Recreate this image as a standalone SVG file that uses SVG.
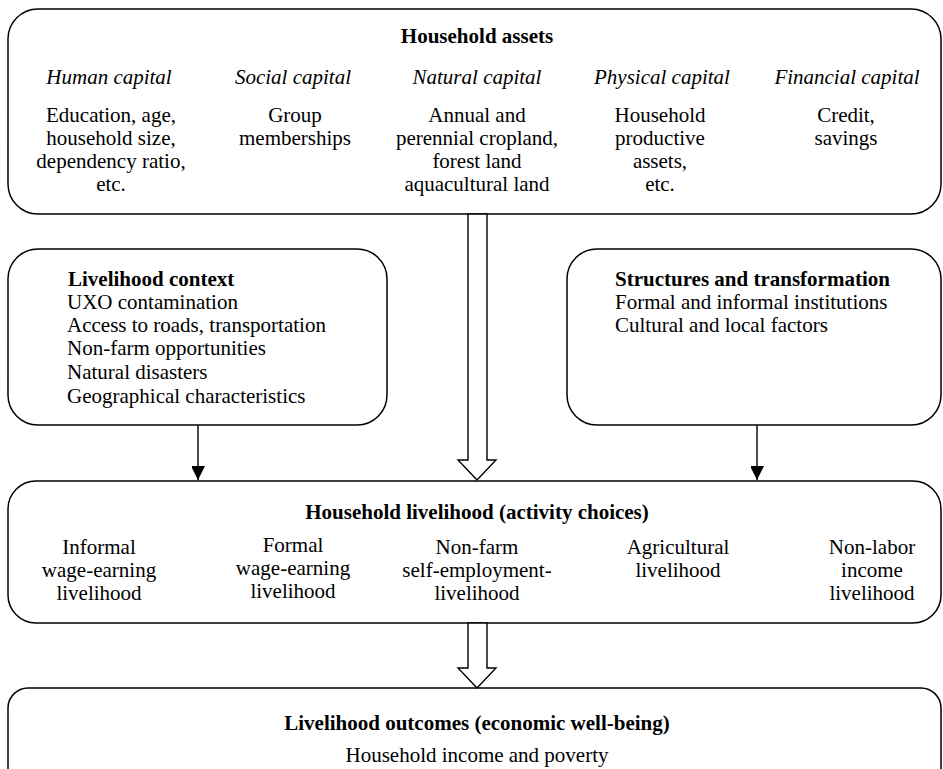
<svg xmlns="http://www.w3.org/2000/svg" width="943" height="769" viewBox="0 0 943 769">
<defs>
<style>
.box{fill:#fff;stroke:#000;stroke-width:1.5}
.t{font-family:"Liberation Serif","Times New Roman",serif;font-size:21px;fill:#000}
.b{font-weight:bold}
.i{font-style:italic}
.c{text-anchor:middle}
.con{stroke:#000;stroke-width:1.4;fill:none}
.hollow{fill:#fff;stroke:#000;stroke-width:1.4;stroke-linejoin:miter}
</style>
<marker id="ah" markerUnits="userSpaceOnUse" markerWidth="14" markerHeight="13" refX="14" refY="7" orient="auto">
<path d="M0,0 L14,7 L0,14 Z" fill="#000"/>
</marker>
</defs>
<rect width="943" height="769" fill="#fff"/>

<g id="assets">
<rect class="box" x="8" y="9" width="933" height="205" rx="30" ry="30"/>
<text class="t b c" x="477" y="43">Household assets</text>
<text class="t i c" x="109" y="84">Human capital</text>
<text class="t i c" x="293" y="84">Social capital</text>
<text class="t i c" x="477" y="84">Natural capital</text>
<text class="t i c" x="662" y="84">Physical capital</text>
<text class="t i c" x="847" y="84">Financial capital</text>
<text class="t c" x="111" y="122">Education, age,</text>
<text class="t c" x="111" y="145">household size,</text>
<text class="t c" x="111" y="168">dependency ratio,</text>
<text class="t c" x="111" y="191">etc.</text>
<text class="t c" x="295" y="122">Group</text>
<text class="t c" x="295" y="145">memberships</text>
<text class="t c" x="477" y="122">Annual and</text>
<text class="t c" x="477" y="145">perennial cropland,</text>
<text class="t c" x="477" y="168">forest land</text>
<text class="t c" x="477" y="191">aquacultural land</text>
<text class="t c" x="660" y="122">Household</text>
<text class="t c" x="660" y="145">productive</text>
<text class="t c" x="660" y="168">assets,</text>
<text class="t c" x="660" y="191">etc.</text>
<text class="t c" x="846" y="122">Credit,</text>
<text class="t c" x="846" y="145">savings</text>
</g>

<g id="context">
<rect class="box" x="8" y="249" width="379" height="176" rx="30" ry="30"/>
<text class="t b" x="68" y="286">Livelihood context</text>
<text class="t" x="67" y="309">UXO contamination</text>
<text class="t" x="67" y="332">Access to roads, transportation</text>
<text class="t" x="67" y="355">Non-farm opportunities</text>
<text class="t" x="67" y="379">Natural disasters</text>
<text class="t" x="67" y="403">Geographical characteristics</text>
</g>

<g id="structures">
<rect class="box" x="567" y="249" width="374" height="176" rx="30" ry="30"/>
<text class="t b" x="615" y="286">Structures and transformation</text>
<text class="t" x="615" y="309">Formal and informal institutions</text>
<text class="t" x="615" y="332">Cultural and local factors</text>
</g>

<g id="livelihood">
<rect class="box" x="8" y="481" width="933" height="142" rx="28" ry="28"/>
<text class="t b c" x="477" y="519">Household livelihood (activity choices)</text>
<text class="t c" x="99" y="554">Informal</text>
<text class="t c" x="99" y="577">wage-earning</text>
<text class="t c" x="99" y="600">livelihood</text>
<text class="t c" x="293" y="552">Formal</text>
<text class="t c" x="293" y="575">wage-earning</text>
<text class="t c" x="293" y="598">livelihood</text>
<text class="t c" x="477" y="554">Non-farm</text>
<text class="t c" x="477" y="577">self-employment-</text>
<text class="t c" x="477" y="600">livelihood</text>
<text class="t c" x="678" y="554">Agricultural</text>
<text class="t c" x="678" y="577">livelihood</text>
<text class="t c" x="872" y="554">Non-labor</text>
<text class="t c" x="872" y="577">income</text>
<text class="t c" x="872" y="600">livelihood</text>
</g>

<g id="outcomes">
<rect class="box" x="8" y="688" width="933" height="120" rx="20" ry="20"/>
<text class="t b c" x="477" y="730">Livelihood outcomes (economic well-being)</text>
<text class="t c" x="477" y="762">Household income and poverty</text>
</g>

<g id="connectors">
<polygon class="hollow" points="468,214 487,214 487,460 496,460 477,480 458,460 468,460"/>
<polygon class="hollow" points="468,623 487,623 487,668 496,668 477,688 458,668 468,668"/>
<line class="con" x1="198" y1="425" x2="198" y2="480" marker-end="url(#ah)"/>
<line class="con" x1="757" y1="425" x2="757" y2="480" marker-end="url(#ah)"/>
</g>
</svg>
